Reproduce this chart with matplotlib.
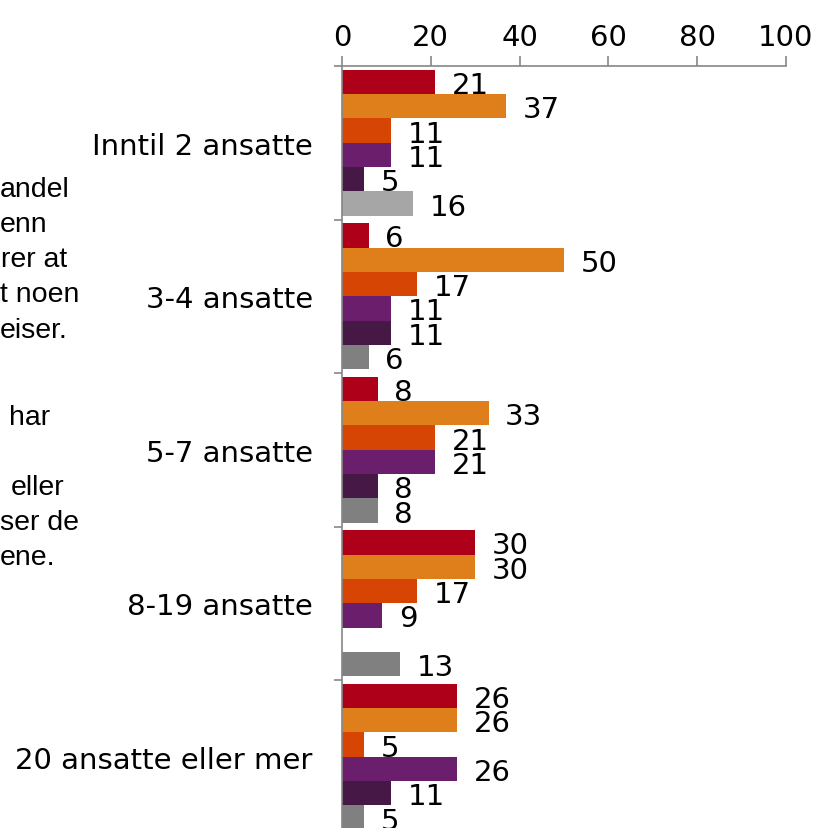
import numpy as np
import matplotlib.pyplot as plt

# Data
categories = ["Inntil 2 ansatte", "3-4 ansatte", "5-7 ansatte", "8-19 ansatte",
              "20 ansatte eller mer"]
series = [
    [21, 6, 8, 30, 26],
    [37, 50, 33, 30, 26],
    [11, 17, 21, 17, 5],
    [11, 11, 21, 9, 26],
    [5, 11, 8, np.nan, 11],
    [16, 6, 8, 13, 5],
]
colors = ["#AE0018", "#DE7F1B", "#D64503", "#6A1E6B", "#461846", "#808080"]
first_grey = "#A6A6A6"
ticks = [0, 20, 40, 60, 80, 100]

# Fragments of a text box partly hidden behind the chart
side_text = [("andel", 0, 197), ("enn", 0, 232), ("rer at", 1, 267),
             ("t noen", 0, 302), ("eiser.", 0, 338), ("har", 9, 425),
             ("eller", 11, 495), ("ser de", 0, 530), ("ene.", 0, 565)]

W, H = 816, 829
fig = plt.figure(figsize=(W / 100, H / 100), dpi=100)
ax = fig.add_axes([342 / W, 0, 444 / W, 1 - 67 / H])

band = 153.5
nser = len(series)
h = 0.95 / nser
fontsize = 21
for j, vals in enumerate(series):
    for i, v in enumerate(vals):
        if np.isnan(v):
            continue
        y = i + 0.025 + (j + 0.5) * h
        c = colors[j]
        if j == nser - 1 and i == 0:
            c = first_grey
        ax.barh(y, v, height=h, color=c, edgecolor="none")
        ax.annotate(f"{v:g}", (v, y), xytext=(12, 0), textcoords="offset points",
                    ha="left", va="center_baseline", fontsize=fontsize)

ax.set_xlim(0, 100)
ax.set_ylim((H - 67) / band, 0)
ax.xaxis.tick_top()
ax.set_xticks(ticks)
ax.set_xticklabels([str(t) for t in ticks])
ax.tick_params(axis="x", which="major", length=7, width=1.2, color="#868686",
               labelsize=fontsize, pad=4)
ax.set_yticks(np.arange(len(categories)) + 0.5)
ax.set_yticklabels(categories)
ax.set_yticks(np.arange(len(categories)), minor=True)
ax.tick_params(axis="y", which="major", length=0, labelsize=fontsize, pad=21)
ax.tick_params(axis="y", which="minor", length=6, width=1.2, color="#868686")
for s in ["right", "bottom"]:
    ax.spines[s].set_visible(False)
for s in ["top", "left"]:
    ax.spines[s].set_color("#868686")
    ax.spines[s].set_linewidth(1.2)

for txt, x, yb in side_text:
    fig.text(x / W, 1 - yb / H, txt, ha="left", va="baseline",
             fontsize=20.5, family="Liberation Sans")

fig.savefig("out.png", dpi=100)
